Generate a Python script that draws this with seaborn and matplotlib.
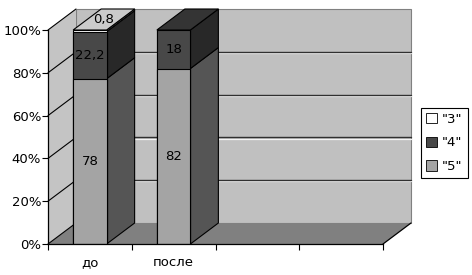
import matplotlib
matplotlib.use("Agg")
import matplotlib.pyplot as plt
import seaborn as sns
import numpy as np
from matplotlib.patches import Polygon, Patch

# ---- data ----
categories = ["до", "после"]
grade5 = [78, 82]
grade4 = [22.2, 18]
grade3 = [0.8, 0]
series_names = ['"3"', '"4"', '"5"']
tick_labels = ["0%", "20%", "40%", "60%", "80%", "100%"]

# ---- styling ----
front_col = {"5": "#a4a4a4", "4": "#484848", "3": "#ffffff"}
side_col = {"5": "#555555", "4": "#282828", "3": "#9a9a9a"}
top_col = {"5": "#d0d0d0", "4": "#343434", "3": "#cbcbcb"}

sns.set_theme(style="white")
plt.rcParams["font.family"] = ["DejaVu Sans"]
plt.rcParams["text.color"] = "black"
plt.rcParams["xtick.color"] = "black"
plt.rcParams["ytick.color"] = "black"
plt.rcParams["xtick.labelcolor"] = "black"
plt.rcParams["ytick.labelcolor"] = "black"

FS = 9.5

fig = plt.figure(figsize=(4.72, 2.75), dpi=100)
ax = fig.add_axes([48 / 472, 31 / 275, 335 / 472, 214 / 275])

# shares (100% stacked)
g5 = np.array(grade5, float)
g4 = np.array(grade4, float)
g3 = np.array(grade3, float)
tot = g5 + g4 + g3
s5 = g5 / tot * 100
s4 = g4 / tot * 100
s3 = g3 / tot * 100
cum5 = s5
cum4 = s5 + s4
cum3 = s5 + s4 + s3

W = 0.4
layers = [("3", cum3), ("4", cum4), ("5", cum5)]
layer_patches = {}
for key, cum in layers:
    n0 = len(ax.patches)
    sns.barplot(x=categories, y=cum, color=front_col[key], width=W,
                edgecolor="black", linewidth=0.8, saturation=1,
                ax=ax, zorder=6)
    layer_patches[key] = ax.patches[n0:]

ax.set_xlim(-0.5, 3.5)
ax.set_ylim(0, 100)

# depth offset in data units
dx = 28 / (335 / 4)
dy = 21 / (214 / 100)

# back wall
ax.add_patch(Polygon([(-0.5 + dx, dy), (3.5 + dx, dy), (3.5 + dx, 100 + dy), (-0.5 + dx, 100 + dy)],
                     closed=True, facecolor="#c0c0c0", edgecolor="#808080", lw=0.8,
                     clip_on=False, zorder=1))
# left wall
ax.add_patch(Polygon([(-0.5, 0), (-0.5, 100), (-0.5 + dx, 100 + dy), (-0.5 + dx, dy)],
                     closed=True, facecolor="#c4c4c4", edgecolor="none",
                     clip_on=False, zorder=1))
# floor
ax.add_patch(Polygon([(-0.5, 0), (3.5, 0), (3.5 + dx, dy), (-0.5 + dx, dy)],
                     closed=True, facecolor="#808080", edgecolor="none",
                     clip_on=False, zorder=2))
ax.plot([3.5, 3.5 + dx], [0, dy], color="black", lw=0.9, clip_on=False, zorder=3)

# gridlines on back wall + diagonals on left wall
for v in [20, 40, 60, 80]:
    ax.plot([-0.5 + dx, 3.5 + dx], [v + dy - 0.6, v + dy - 0.6], color="#f4f4f4", lw=0.9,
            clip_on=False, zorder=2.5)
    ax.plot([-0.5 + dx, 3.5 + dx], [v + dy, v + dy], color="#303030", lw=1.0,
            clip_on=False, zorder=2.6)
for v in [0, 20, 40, 60, 80, 100]:
    ax.plot([-0.5, -0.5 + dx], [v, v + dy], color="black", lw=0.8,
            clip_on=False, zorder=3)

# 3D faces for bars
order = ["5", "4", "3"]
for i in range(len(categories)):
    prev_top = 0.0
    top_key = None
    top_val = 0.0
    for key in order:
        p = layer_patches[key][i]
        x0 = p.get_x()
        x1 = x0 + p.get_width()
        top = p.get_height()
        if top - prev_top > 1e-9:
            ax.add_patch(Polygon([(x1, prev_top), (x1 + dx, prev_top + dy),
                                  (x1 + dx, top + dy), (x1, top)],
                                 closed=True, facecolor=side_col[key], edgecolor="black",
                                 lw=0.8, clip_on=False, zorder=4))
            top_key = key
            top_val = top
        prev_top = max(prev_top, top)
    p = layer_patches[top_key][i]
    x0 = p.get_x()
    x1 = x0 + p.get_width()
    ax.add_patch(Polygon([(x0, top_val), (x1, top_val), (x1 + dx, top_val + dy), (x0 + dx, top_val + dy)],
                         closed=True, facecolor=top_col[top_key], edgecolor="black",
                         lw=0.8, clip_on=False, zorder=5))

# value labels
def fmt(v):
    return ("%g" % v).replace(".", ",")

for i in range(len(categories)):
    c = layer_patches["5"][i].get_x() + W / 2
    ax.text(c, cum5[i] / 2, fmt(grade5[i]), ha="center", va="center", fontsize=FS,
            color="black", zorder=10)
    ax.text(c, (cum5[i] + cum4[i]) / 2, fmt(grade4[i]), ha="center", va="center", fontsize=FS,
            color="black", zorder=10)
    if grade3[i] > 0:
        ax.text(c + dx / 2, 100 + dy / 2, fmt(grade3[i]), ha="center", va="center",
                fontsize=FS, color="black", zorder=10, clip_on=False)

# axes styling
ax.set_facecolor("none")
for s in ["top", "right"]:
    ax.spines[s].set_visible(False)
for s in ["left", "bottom"]:
    ax.spines[s].set_color("black")
    ax.spines[s].set_linewidth(0.9)
    ax.spines[s].set_zorder(8)
ax.set_yticks([0, 20, 40, 60, 80, 100])
ax.set_yticklabels(tick_labels, fontsize=FS)
ax.tick_params(axis="y", length=4, width=0.8, color="black", pad=1, left=True)
ax.set_xticks([0, 1])
ax.set_xticklabels(categories, fontsize=FS)
ax.set_xticks([-0.5, 0.5, 1.5, 2.5, 3.5], minor=True)
ax.tick_params(axis="x", which="major", length=0, pad=9)
ax.tick_params(axis="x", which="minor", length=4, width=0.8, color="black", bottom=True)
ax.set_xlabel("")
ax.set_ylabel("")

# legend
handles = [Patch(facecolor=front_col["3"], edgecolor="black", lw=0.6),
           Patch(facecolor=front_col["4"], edgecolor="black", lw=0.6),
           Patch(facecolor=front_col["5"], edgecolor="black", lw=0.6)]
leg = fig.legend(handles, series_names, loc="center left",
                 bbox_to_anchor=(421 / 472, 1 - 143 / 275), fontsize=FS,
                 frameon=True, fancybox=False, edgecolor="black", framealpha=1,
                 handlelength=0.8, handleheight=0.8, handletextpad=0.4,
                 labelspacing=0.8, borderpad=0.4, borderaxespad=0)
leg.get_frame().set_linewidth(0.8)

fig.savefig("out.png", dpi=100, facecolor="white")
